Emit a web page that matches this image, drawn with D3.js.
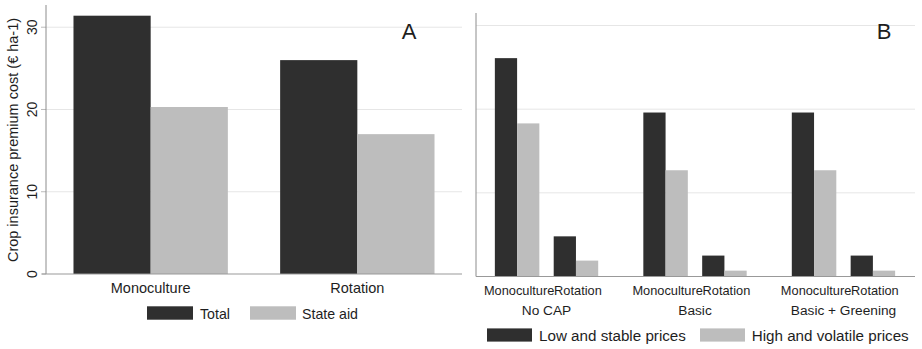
<!DOCTYPE html>
<html>
<head>
<meta charset="utf-8">
<script src="https://cdn.jsdelivr.net/npm/d3@7"></script>
<style>
  body { margin: 0; background: #fff; }
  svg text { font-family: "Liberation Sans", Arial, sans-serif; fill: #1e1e1e; }
</style>
</head>
<body>
<div id="chart"></div>
<script>
// Panel A data
var farmsA = ["Monoculture", "Rotation"];
var seriesA = ["Total", "State aid"];
var totalA = [31.4, 26.0];
var stateAidA = [20.3, 17.0];

// Panel B data
var scenariosB = ["No CAP", "Basic", "Basic + Greening"];
var farmsB = ["Monoculture", "Rotation"];
var seriesB = ["Low and stable prices", "High and volatile prices"];
// [scenario][farm]
var lowStableB = [[26.1, 4.8], [19.6, 2.5], [19.6, 2.5]];
var highVolatileB = [[18.3, 1.9], [12.7, 0.7], [12.7, 0.7]];

var yTicks = [0, 10, 20, 30];
var colours = ["#2f2f2f", "#bdbdbd"];

var W = 922, H = 349;
var svg = d3.select("#chart").append("svg")
    .attr("width", W)
    .attr("height", H);

/* ---------- Panel A ---------- */
var yA = d3.scaleLinear().domain([0, 32.7]).range([274, 5]);
var xA = d3.scaleBand().domain(farmsA).range([46, 462])
    .paddingInner(0.253).paddingOuter(0.133);
var xA2 = d3.scaleBand().domain(seriesA).range([0, xA.bandwidth()]);

var gA = svg.append("g");

//gridlines
gA.selectAll("line.grid").data(yTicks.slice(1)).enter().append("line")
    .attr("x1", 46).attr("x2", 462)
    .attr("y1", function(d) { return yA(d); })
    .attr("y2", function(d) { return yA(d); })
    .attr("stroke", "#e6e6e6").attr("stroke-width", 1);

//ticks
gA.selectAll("line.tick").data(yTicks).enter().append("line")
    .attr("x1", 41).attr("x2", 46)
    .attr("y1", function(d) { return yA(d); })
    .attr("y2", function(d) { return yA(d); })
    .attr("stroke", "#bbb");

//tick labels, rotated
gA.selectAll("text.tick").data(yTicks).enter().append("text")
    .attr("transform", function(d) { return "translate(36.5," + yA(d) + ") rotate(-90)"; })
    .attr("text-anchor", "middle")
    .style("font-size", "14px")
    .text(function(d) { return d; });

//y title
gA.append("text")
    .attr("transform", "translate(18,140) rotate(-90)")
    .attr("text-anchor", "middle")
    .style("font-size", "14.5px")
    .text("Crop insurance premium cost (€ ha-1)");

//bars
var barsA = farmsA.map(function(f, i) { return [totalA[i], stateAidA[i]]; });
var grpA = gA.selectAll("g.grp").data(barsA).enter().append("g")
    .attr("transform", function(d, i) { return "translate(" + xA(farmsA[i]) + ",0)"; });
grpA.selectAll("rect").data(function(d) { return d; }).enter().append("rect")
    .attr("x", function(d, j) { return xA2(seriesA[j]); })
    .attr("width", xA2.bandwidth())
    .attr("y", function(d) { return yA(d); })
    .attr("height", function(d) { return yA(0) - yA(d); })
    .attr("fill", function(d, j) { return colours[j]; });

//axes lines
gA.append("line").attr("x1", 46).attr("x2", 46).attr("y1", 5).attr("y2", 274)
    .attr("stroke", "#8c8c8c");
gA.append("line").attr("x1", 42).attr("x2", 462).attr("y1", 274).attr("y2", 274)
    .attr("stroke", "#999");

//x labels
gA.selectAll("text.xl").data(farmsA).enter().append("text")
    .attr("x", function(d) { return xA(d) + xA.bandwidth() / 2; })
    .attr("y", 292.5)
    .attr("text-anchor", "middle")
    .style("font-size", "14.5px")
    .text(function(d) { return d; });

//panel letter
gA.append("text").attr("x", 409).attr("y", 39).attr("text-anchor", "middle")
    .style("font-size", "22px").text("A");

//legend A
var legA = [{x: 147, tx: 200}, {x: 250, tx: 302}];
seriesA.forEach(function(s, j) {
    gA.append("rect").attr("x", legA[j].x).attr("y", 306.3).attr("width", 46).attr("height", 13.4)
        .attr("fill", colours[j]);
    gA.append("text").attr("x", legA[j].tx).attr("y", 318.7)
        .style("font-size", "14.2px").text(s);
});

/* ---------- Panel B ---------- */
var yB = d3.scaleLinear().domain([0, 31.4]).range([276.5, 13.8]);
var xB = d3.scaleBand().domain(scenariosB).range([476, 914])
    .paddingInner(0.304).paddingOuter(0.127);
var xBf = d3.scaleBand().domain(farmsB).range([0, xB.bandwidth()])
    .paddingInner(0.244).paddingOuter(0);
var xBs = d3.scaleBand().domain(seriesB).range([0, xBf.bandwidth()]);

var gB = svg.append("g");

gB.selectAll("line.grid").data(yTicks.slice(1)).enter().append("line")
    .attr("x1", 476).attr("x2", 915)
    .attr("y1", function(d) { return yB(d); })
    .attr("y2", function(d) { return yB(d); })
    .attr("stroke", "#e6e6e6");

var grpB = gB.selectAll("g.scen").data(scenariosB).enter().append("g")
    .attr("transform", function(d) { return "translate(" + xB(d) + ",0)"; });

grpB.each(function(sc, i) {
    var g = d3.select(this);
    farmsB.forEach(function(f, k) {
        var vals = [lowStableB[i][k], highVolatileB[i][k]];
        g.selectAll("rect.f" + k).data(vals).enter().append("rect")
            .attr("x", function(d, j) { return xBf(f) + xBs(seriesB[j]); })
            .attr("width", xBs.bandwidth())
            .attr("y", function(d) { return yB(d); })
            .attr("height", function(d) { return yB(0) - yB(d); })
            .attr("fill", function(d, j) { return colours[j]; });
        g.append("text")
            .attr("x", xBf(f) + xBf.bandwidth() / 2 + 2)
            .attr("y", 295)
            .attr("text-anchor", "middle")
            .style("font-size", "12.8px")
            .text(f);
    });
    g.append("text")
        .attr("x", xB.bandwidth() / 2)
        .attr("y", 314.7)
        .attr("text-anchor", "middle")
        .style("font-size", "13.7px")
        .text(sc);
});

gB.append("line").attr("x1", 476).attr("x2", 476).attr("y1", 13).attr("y2", 276.5)
    .attr("stroke", "#8c8c8c");
gB.append("line").attr("x1", 476).attr("x2", 915).attr("y1", 276.5).attr("y2", 276.5)
    .attr("stroke", "#999");

gB.append("text").attr("x", 884).attr("y", 38.5).attr("text-anchor", "middle")
    .style("font-size", "22px").text("B");

//legend B
var legB = [{x: 487, tx: 539}, {x: 700, tx: 751.7}];
seriesB.forEach(function(s, j) {
    gB.append("rect").attr("x", legB[j].x).attr("y", 328.4).attr("width", 45).attr("height", 13.2)
        .attr("fill", colours[j]);
    gB.append("text").attr("x", legB[j].tx).attr("y", 340.7)
        .style("font-size", "15.2px").text(s);
});
</script>
</body>
</html>
